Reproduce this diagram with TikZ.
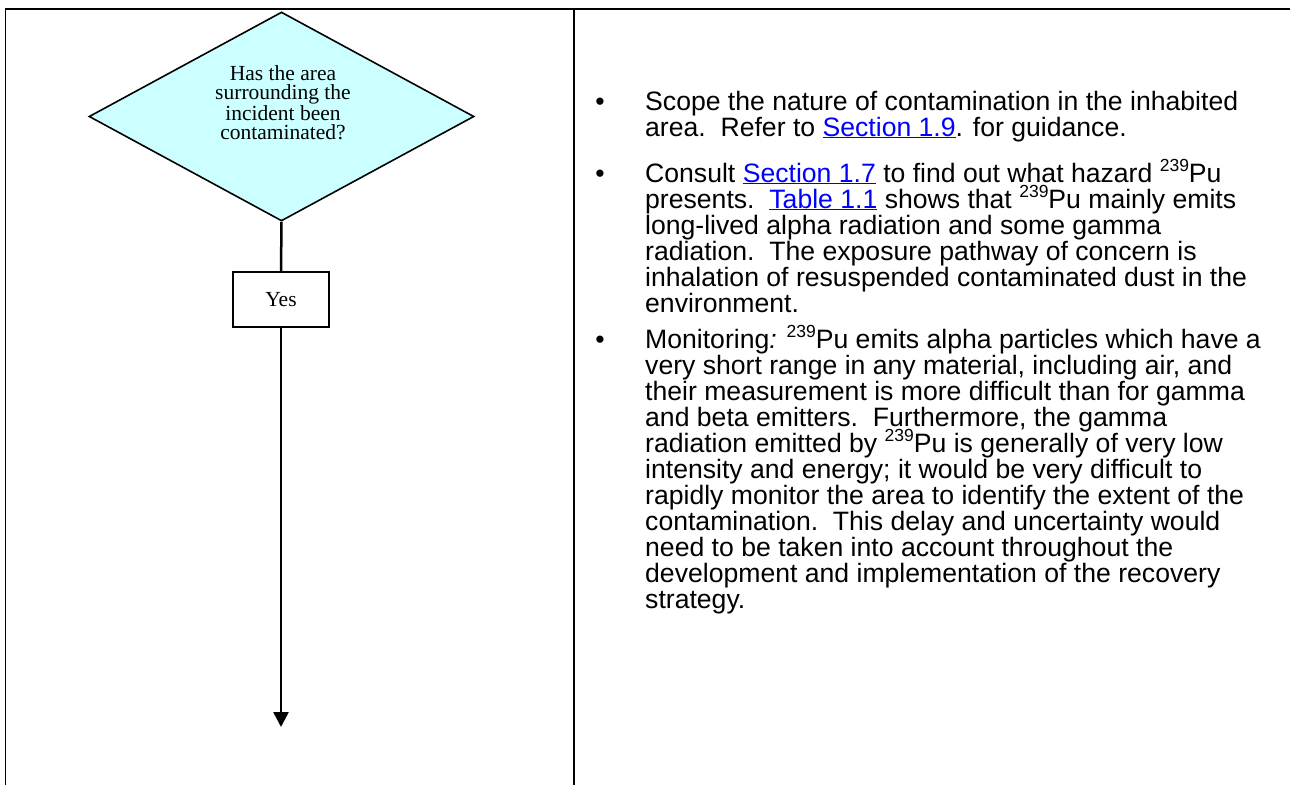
\documentclass[tikz,border=0pt]{standalone}
\usepackage{fontspec}
\setmainfont{Liberation Serif}
\newfontfamily\arialfont{Liberation Sans}
\usetikzlibrary{shapes.geometric,arrows.meta}
\definecolor{decisionfill}{HTML}{CCFFFF}
\definecolor{linkblue}{HTML}{0000FF}
% hyperlink-style reference and isotope mass number
\newcommand\lnk[1]{\textcolor{linkblue}{\underline{#1}}}
\newcommand\iso[1]{\raisebox{0.4em}{\fontsize{17.5}{17.5}\selectfont #1}}
% a bullet paragraph with fixed baselines
\newcommand\para[1]{\parbox[t]{640pt}{\raggedright\lineskiplimit=-100pt #1}}

\begin{document}
\begin{tikzpicture}[x=1pt,y=-1pt,
  frame/.style={line width=1.8pt},
  decision/.style={diamond, draw, line width=1.6pt, fill=decisionfill,
    inner sep=0pt, minimum width=385pt, minimum height=209pt},
  question/.style={align=center, inner sep=0pt,
    font=\fontsize{21.5}{19}\selectfont},
  answer/.style={draw, line width=1.6pt, fill=white, minimum width=96pt,
    minimum height=55pt, inner sep=0pt, font=\fontsize{21.5}{21}\selectfont},
  flow/.style={line width=2.5pt},
  bodytext/.style={anchor=base west, inner sep=0pt,
    font=\arialfont\fontsize{26.6}{26}\selectfont},
  bulletmark/.style={anchor=base, inner sep=0pt,
    font=\arialfont\fontsize{26.6}{26}\selectfont}
]
\useasboundingbox (0,0) rectangle (1290,785);

% table frame
\coordinate (topright) at (1290,9);
\coordinate (topleft) at (5.5,9);
\coordinate (botleft) at (5.5,785);
\coordinate (midtop) at (574,9);
\coordinate (midbot) at (574,785);
\draw[frame] (topright) -- (topleft) -- (botleft);
\draw[frame] (midtop) -- (midbot);

% flowchart column
\node[decision] (q) at (281.5,116.5) {};
\node[question] (qtext) at (283,102.5)
  {Has the area\\surrounding the\\incident been\\contaminated?};
\node[answer] (yes) at (281,299.5) {Yes};
\coordinate (next) at (281,727);
\draw[flow] (q.south) -- (yes.north);
\draw[flow,-{Triangle[width=15pt,length=15pt]}] (yes.south) -- (next);

% guidance column
\node[bulletmark] (m1) at (600,110) {\textbullet};
\node[bodytext] (p1) at (645,110) {\para{%
Scope the nature of contamination in the inhabited\\
area.\ \ Refer to \lnk{Section 1.9}. for guidance.}};

\node[bulletmark] (m2) at (600,182) {\textbullet};
\node[bodytext] (p2) at (645,182) {\para{%
Consult \lnk{Section 1.7} to find out what hazard \iso{239}Pu\\
presents.\ \ \lnk{Table 1.1} shows that \iso{239}Pu mainly emits\\
long-lived alpha radiation and some gamma\\
radiation.\ \ The exposure pathway of concern is\\
inhalation of resuspended contaminated dust in the\\
environment.}};

\node[bulletmark] (m3) at (600,348) {\textbullet};
\node[bodytext] (p3) at (645,348) {\para{%
Monitoring\textit{:} \iso{239}Pu emits alpha particles which have a\\
very short range in any material, including air, and\\
their measurement is more difficult than for gamma\\
and beta emitters.\ \ Furthermore, the gamma\\
radiation emitted by \iso{239}Pu is generally of very low\\
intensity and energy; it would be very difficult to\\
rapidly monitor the area to identify the extent of the\\
contamination.\ \ This delay and uncertainty would\\
need to be taken into account throughout the\\
development and implementation of the recovery\\
strategy.}};
\end{tikzpicture}
\end{document}
